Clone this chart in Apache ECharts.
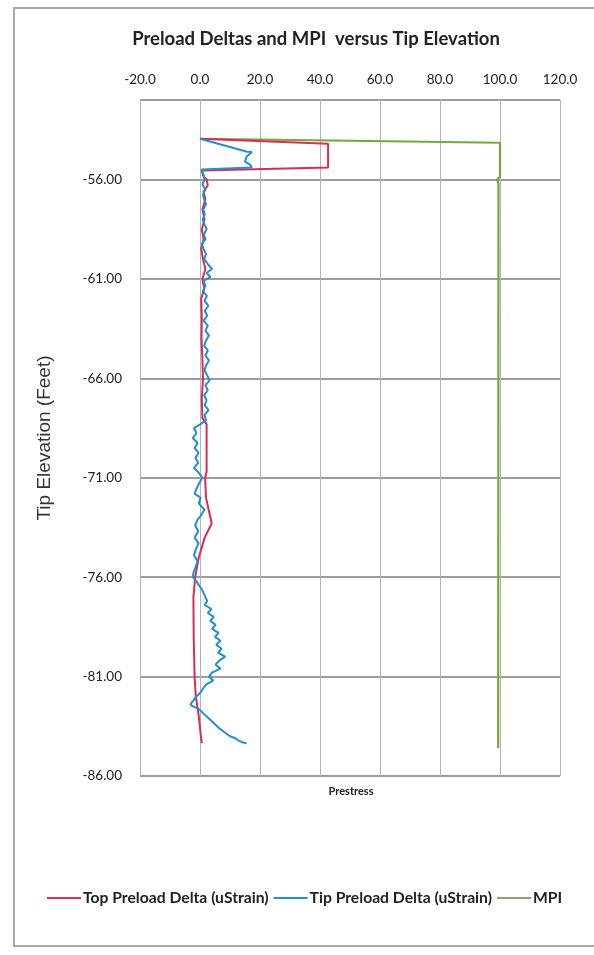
<!DOCTYPE html>
<html>
<head>
<meta charset="utf-8">
<script src="https://cdn.jsdelivr.net/npm/echarts@6/dist/echarts.min.js"></script>
<style>
html,body{margin:0;padding:0;background:#fff;}
#c{width:594px;height:955px;}
</style>
</head>
<body>
<div id="c"></div>
<script>
// ---- data (elevation in feet, values in chart units) ----
var xTicks = [-20, 0, 20, 40, 60, 80, 100, 120];
var yTicks = [-86, -81, -76, -71, -66, -61, -56];

var tipElev = [-53.95,-54.6,-54.62,-54.85,-55.1,-55.25,-55.4,-55.5,
 -55.75,-56.0,-56.25,-56.5,-56.75,-57.0,-57.25,-57.5,-57.75,-58.0,-58.25,-58.5,-58.75,-59.0,-59.25,-59.5,-59.75,-60.0,
 -60.25,-60.5,-60.7,-60.9,-61.1,-61.35,-61.6,-61.85,-62.1,-62.35,-62.6,-62.85,-63.1,-63.35,-63.6,-63.85,-64.1,-64.35,
 -64.6,-64.85,-65.1,-65.35,-65.6,-65.85,-66.1,-66.35,-66.6,-66.85,-67.1,-67.35,-67.6,-67.85,-68.1,-68.3,-68.5,-68.75,
 -69.0,-69.25,-69.5,-69.75,-70.0,-70.25,-70.5,-70.75,-71.0,-71.25,-71.5,-71.8,-72.0,-72.3,-72.6,-72.9,-73.1,-73.4,
 -73.7,-74.0,-74.3,-74.6,-74.9,-75.2,-75.5,-75.8,-76.0,-76.2,-76.4,-76.6,-76.8,-77.0,-77.2,-77.4,-77.6,-77.8,-78.0,
 -78.2,-78.4,-78.6,-78.8,-79.0,-79.2,-79.4,-79.6,-79.8,-80.0,-80.2,-80.4,-80.6,-80.8,-81.0,-81.2,-81.4,-81.6,-81.8,
 -82.0,-82.2,-82.4,-82.5,-82.6,-82.8,-83.0,-83.2,-83.4,-83.6,-83.8,-84.0,-84.1,-84.2,-84.3,-84.35];
var tipVals = [0,15.7,17.3,15.5,15,16.7,17.3,0.5,
 1.2,1.5,0.8,1.8,1.0,1.4,2.0,1.1,1.6,0.9,1.5,2.2,1.3,1.8,0.6,1.2,2.0,1.4,
 2.6,4.0,2.2,3.5,1.2,1.8,0.9,2.3,1.5,2.8,1.6,2.4,1.2,2.6,1.8,3.0,2.0,1.4,
 2.6,1.8,3.0,2.0,1.5,2.4,3.2,1.8,2.6,1.4,2.2,1.6,2.8,1.5,2.0,0.2,-2.0,-1.2,
 -2.4,-0.8,-1.8,-0.5,-1.5,-0.6,-2.0,-0.4,0.8,-0.2,-1.0,-1.8,0.2,-0.4,1.5,0.3,-0.8,-1.6,
 -0.6,-1.8,-0.5,-1.4,-2.0,-0.8,-1.5,-2.2,-2.4,-1.2,-0.4,0.6,1.2,1.8,2.4,1.6,3.8,2.6,4.6,
 3.4,5.2,4.0,6.2,5.0,6.8,5.4,7.2,6.0,8.4,6.4,5.2,6.8,4.0,3.0,4.4,2.0,1.0,0.2,
 -1.2,-2.2,-3.2,-2.4,-0.6,0.8,2.2,3.6,5.0,6.4,8.2,10.0,11.8,12.6,14.0,15.5];

var topElev = [-53.95,-54.2,-55.4,-55.55,-55.8,-56.0,-56.3,-56.6,-57.0,-57.5,-58.0,-58.5,-59.0,-59.5,-60.0,-60.5,
 -61.0,-61.5,-62.0,-63.0,-64.0,-65.0,-66.0,-67.0,-68.0,-68.3,-70.7,-71.0,-72.0,-73.3,-74.0,-75.0,-76.0,-77.0,
 -79.0,-81.0,-82.0,-83.0,-84.0,-84.35];
var topVals = [0,42.7,42.7,0.6,1.0,2.2,2.6,1.2,1.8,0.8,1.5,0.6,1.2,0.4,1.0,1.8,
 0.8,1.4,0.4,0.6,0.5,0.8,1.0,0.6,0.8,2.2,2.2,1.7,2.0,3.9,1.6,-0.4,-1.6,-2.2,
 -2.1,-1.8,-1.4,-0.4,0.3,0.6];

var mpiElev = [-53.95,-54.15,-55.85,-56.0,-56.2,-84.6];
var mpiVals = [0,100,100,99.0,99.5,99.4];

function pairs(vals, elev){ var out=[]; for(var i=0;i<vals.length;i++){out.push([vals[i],elev[i]]);} return out; }

var chart = echarts.init(document.getElementById('c'), null, {renderer:'canvas'});
var tickFont = 'Lato, "Open Sans", sans-serif';
var option = {
  animation:false,
  backgroundColor:'#fff',
  title:{
    text:'Preload Deltas and MPI  versus Tip Elevation',
    left:311, top:25, textAlign:'center',
    textStyle:{fontFamily:tickFont, fontSize:18.5, fontWeight:'bold', color:'#222'}
  },
  legend:{
    data:['Top Preload Delta (uStrain)','Tip Preload Delta (uStrain)','MPI'],
    left:42, top:885,
    icon:'rect', itemWidth:34, itemHeight:2, itemGap:5,
    textStyle:{fontFamily:tickFont, fontSize:15.7, fontWeight:'bold', color:'#222', padding:[0,0,0,-3]}
  },
  grid:{left:140, right:34, top:100, bottom:179, containLabel:false},
  xAxis:{
    type:'value', position:'top', min:-20, max:120, interval:20,
    axisLine:{show:false}, axisTick:{show:false},
    axisLabel:{margin:13, fontFamily:tickFont, fontSize:13.5, color:'#222',
      formatter:function(v){return v.toFixed(1);}},
    splitLine:{show:true, lineStyle:{color:'#b4b4b4', width:1}}
  },
  yAxis:{
    type:'value', min:-86, max:-52, interval:5,
    name:'Tip Elevation (Feet)', nameLocation:'middle', nameGap:86, nameRotate:90,
    nameTextStyle:{fontFamily:'"Liberation Sans", Arial, sans-serif', fontSize:19, color:'#333'},
    axisLine:{show:false}, axisTick:{show:false},
    axisLabel:{margin:18, fontFamily:tickFont, fontSize:13.5, color:'#222', showMaxLabel:false,
      formatter:function(v){return v.toFixed(2);}},
    splitLine:{show:true, lineStyle:{color:'#7d7d7d', width:1.5}}
  },
  graphic:[
    {type:'rect', shape:{x:14, y:8, width:600, height:938}, style:{fill:null, stroke:'#a8a8a8', lineWidth:2}, silent:true, z:-10},
    {type:'text', x:351, y:786, style:{text:'Prestress', font:'bold 11px Lato, sans-serif', fill:'#222', textAlign:'center'}}
  ],
  series:[
    {name:'MPI', type:'line', data:pairs(mpiVals, mpiElev), showSymbol:false, symbol:'none',
      lineStyle:{color:'#76a83a', width:2.2}, itemStyle:{color:'#8f9a80'}},
    {name:'Top Preload Delta (uStrain)', type:'line', data:pairs(topVals, topElev), showSymbol:false, symbol:'none',
      lineStyle:{color:'#d92c57', width:2}, itemStyle:{color:'#d92c57'}},
    {name:'Tip Preload Delta (uStrain)', type:'line', data:pairs(tipVals, tipElev), showSymbol:false, symbol:'none',
      lineStyle:{color:'#238fcb', width:2}, itemStyle:{color:'#238fcb'}}
  ]
};
chart.setOption(option);
</script>
</body>
</html>
